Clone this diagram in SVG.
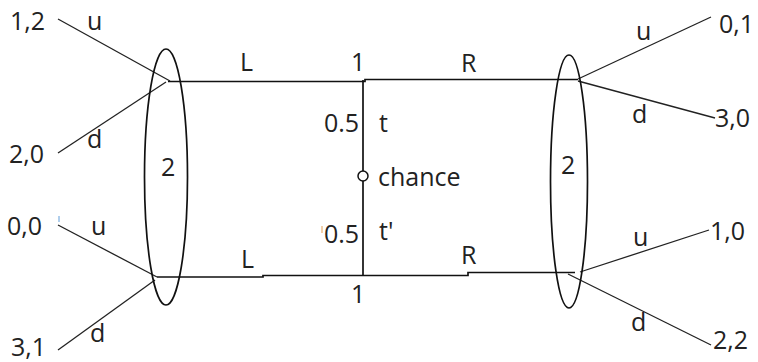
<svg xmlns="http://www.w3.org/2000/svg" width="758" height="362" viewBox="0 0 758 362">
<style>
text{font-family:"Open Sans","Liberation Sans",sans-serif;font-size:25px;fill:#222}
.ln{stroke:#111;stroke-width:1.7;fill:none}
.br{stroke:#222;stroke-width:1.3;fill:none}
.ell{stroke:#111;stroke-width:1.7;fill:none}
</style>
<rect width="758" height="362" fill="#fff"/>
<g id="connectors">
  <path class="ln" d="M168,81.5 H365 V79.5 H578"/>
  <path class="ln" d="M157,277 H263 V275.5 H468 V272.5 H575"/>
  <line class="ln" x1="363" y1="80" x2="363" y2="275"/>
  <line class="br" x1="58" y1="19" x2="170" y2="81"/>
  <line class="br" x1="58" y1="153" x2="166" y2="82"/>
  <line class="br" x1="58" y1="225" x2="157" y2="277"/>
  <line class="br" x1="58" y1="350" x2="155" y2="280"/>
  <line class="br" x1="578" y1="79" x2="711" y2="17"/>
  <line class="br" x1="578" y1="81" x2="715" y2="118"/>
  <line class="br" x1="580" y1="272" x2="709" y2="230"/>
  <line class="br" x1="568" y1="274" x2="711" y2="345"/>
  <line x1="59" y1="216" x2="59" y2="222" stroke="#7aaee0" stroke-width="1.2"/>
  <line x1="322" y1="226" x2="322" y2="233" stroke="#e8b070" stroke-width="1.2"/>
  <text x="87" y="30">u</text>
  <text x="87" y="148">d</text>
  <text x="91" y="235">u</text>
  <text x="90" y="342">d</text>
  <text x="240" y="71">L</text>
  <text x="461" y="72">R</text>
  <text x="241" y="268">L</text>
  <text x="461" y="264">R</text>
  <text x="324" y="132">0.5</text>
  <text x="379" y="132">t</text>
  <text x="324" y="243">0.5</text>
  <text x="379" y="240">t'</text>
  <text x="636" y="40">u</text>
  <text x="632" y="123">d</text>
  <text x="633" y="246">u</text>
  <text x="631" y="331">d</text>
</g>
<g id="chance">
  <circle cx="363" cy="176" r="5" fill="#fff" stroke="#111" stroke-width="1.5"/>
  <text x="378" y="186">chance</text>
</g>
<g id="p1-top"><text x="351" y="71">1</text></g>
<g id="p1-bottom"><text x="351" y="303">1</text></g>
<g id="p2-left">
  <ellipse class="ell" cx="166" cy="177" rx="21.5" ry="128"/>
  <text x="161" y="176">2</text>
</g>
<g id="p2-right">
  <ellipse class="ell" cx="569" cy="181.5" rx="18.5" ry="126.5"/>
  <text x="561" y="174">2</text>
</g>
<g id="payoffs">
  <text x="10" y="30">1,2</text>
  <text x="9" y="163">2,0</text>
  <text x="7" y="235">0,0</text>
  <text x="11" y="356">3,1</text>
  <text x="719" y="33">0,1</text>
  <text x="715" y="127">3,0</text>
  <text x="710" y="240">1,0</text>
  <text x="713" y="349">2,2</text>
</g>
</svg>
